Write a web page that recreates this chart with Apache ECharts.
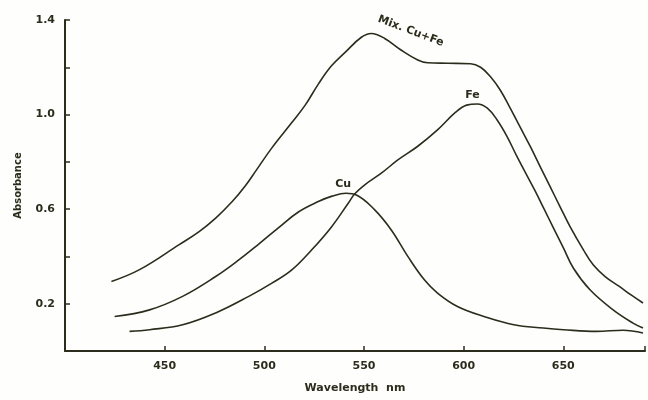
<!DOCTYPE html>
<html>
<head>
<meta charset="utf-8">
<script src="https://cdn.jsdelivr.net/npm/echarts@6/dist/echarts.min.js"></script>
<style>
html,body{margin:0;padding:0;background:#fefefd;}
#c{width:648px;height:400px;}
</style>
</head>
<body>
<div id="c"></div>
<script>
// ---- data ----
const mixWl  = [423.3,437.4,457.3,467.3,475.6,483.9,490.6,496.0,503.7,513.7,520.6,527.1,533.6,540.4,548.7,553.7,560.4,568.6,577.0,582.0,592.0,603.5,608.5,613.5,618.5,623.5,628.5,633.5,638.4,643.4,648.4,653.4,660.1,665.0,671.0,678.3,684.0,690.0];
const mixAbs = [0.294,0.344,0.450,0.505,0.562,0.632,0.700,0.765,0.858,0.965,1.041,1.129,1.205,1.262,1.327,1.343,1.322,1.273,1.231,1.219,1.217,1.215,1.200,1.160,1.102,1.025,0.945,0.864,0.780,0.695,0.610,0.526,0.428,0.365,0.315,0.272,0.237,0.203];

const cuWl  = [424.9,442.4,459.0,475.6,487.2,497.2,507.2,517.1,527.1,534.0,541.0,546.2,555.4,563.7,572.0,580.3,586.9,596.9,610.2,625.2,640.0,650.1,666.7,680.0,690.0];
const cuAbs = [0.146,0.174,0.231,0.315,0.385,0.452,0.522,0.588,0.632,0.655,0.667,0.660,0.597,0.512,0.400,0.301,0.245,0.188,0.146,0.111,0.097,0.090,0.083,0.088,0.076];

const feWl  = [432.4,442.4,459.0,475.6,492.2,503.8,513.8,523.8,533.8,542.1,545.4,550.4,558.7,567.0,577.0,586.9,596.0,601.5,606.9,611.9,616.8,621.8,626.8,631.8,636.0,640.1,645.1,650.0,655.1,663.4,675.0,685.0,690.0];
const feAbs = [0.083,0.090,0.111,0.161,0.231,0.287,0.343,0.428,0.526,0.625,0.665,0.703,0.752,0.808,0.866,0.935,1.010,1.040,1.045,1.027,0.977,0.907,0.822,0.742,0.675,0.605,0.520,0.437,0.350,0.259,0.174,0.118,0.097];

const xTickLabels = [450,500,550,600,650];
const yTickLabels = [0.2,0.6,1.0,1.4];

const curveLabels = [
  {text:'Mix. Cu+Fe', wl:573.5, a:1.353, rot:-0.36},
  {text:'Fe', wl:604.4, a:1.083, rot:0},
  {text:'Cu', wl:539.6, a:0.707, rot:0}
];

const ink = '#2c2c1c';
const font = 'DejaVu Sans';

function pairs(xs, ys){ return xs.map((x,i)=>[x, ys[i]]); }

const chart = echarts.init(document.getElementById('c'), null, {renderer:'canvas'});
const lineStyle = {color: ink, width: 1.6};
chart.setOption({
  animation:false,
  backgroundColor:'#fefefd',
  grid:{left:65, top:20, right:0, bottom:49},
  xAxis:{
    type:'value', min:400, max:691, interval:50,
    axisLine:{show:true, lineStyle:{color:ink, width:2}},
    axisTick:{show:true, inside:true, length:5, lineStyle:{color:ink, width:1.5}},
    splitLine:{show:false},
    axisLabel:{margin:10, color:ink, fontFamily:font, fontSize:11, fontWeight:'bold',
      formatter:(v)=> xTickLabels.includes(Math.round(v)) ? String(Math.round(v)) : ''},
    name:'Wavelength  nm', nameLocation:'middle', nameGap:32,
    nameTextStyle:{color:ink, fontFamily:font, fontSize:11, fontWeight:'bold'}
  },
  yAxis:{
    type:'value', min:0, max:1.4, interval:0.2,
    axisLine:{show:true, lineStyle:{color:ink, width:2}},
    axisTick:{show:true, inside:true, length:5, lineStyle:{color:ink, width:1.5}},
    splitLine:{show:false},
    axisLabel:{margin:10, color:ink, fontFamily:font, fontSize:11, fontWeight:'bold',
      formatter:(v)=>{ const r=Math.round(v*10)/10; return yTickLabels.some(t=>Math.abs(t-r)<1e-6) ? r.toFixed(1) : ''; }},
    name:'Absorbance', nameLocation:'middle', nameGap:42, nameRotate:90,
    nameTextStyle:{color:ink, fontFamily:font, fontSize:10, fontWeight:'bold'}
  },
  series:[
    {name:'Mix. Cu+Fe', type:'line', data:pairs(mixWl,mixAbs), smooth:0.4, showSymbol:false, lineStyle},
    {name:'Cu', type:'line', data:pairs(cuWl,cuAbs), smooth:0.4, showSymbol:false, lineStyle},
    {name:'Fe', type:'line', data:pairs(feWl,feAbs), smooth:0.4, showSymbol:false, lineStyle}
  ]
});

const g = curveLabels.map(l=>{
  const p = chart.convertToPixel({gridIndex:0}, [l.wl, l.a]);
  return {type:'text', x:p[0], y:p[1], rotation:l.rot,
    style:{text:l.text, fill:ink, font:'bold 11px "'+font+'"', align:'center', verticalAlign:'middle'}};
});
chart.setOption({graphic:g});
</script>
</body>
</html>
